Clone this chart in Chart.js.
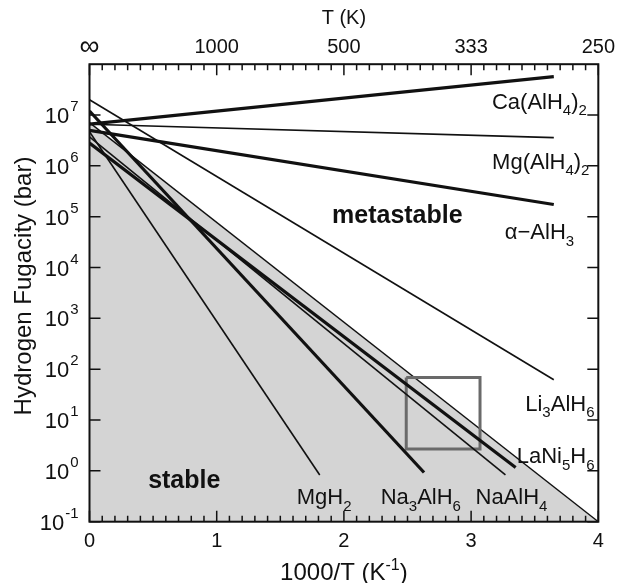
<!DOCTYPE html>
<html>
<head>
<meta charset="utf-8">
<script src="https://cdn.jsdelivr.net/npm/chart.js@4.4.0/dist/chart.umd.min.js"></script>
<style>
  body { margin: 0; background: #fff; }
  canvas { display: block; }
</style>
</head>
<body>
<canvas id="chart" width="620" height="583"></canvas>
<script>
// axis ticks: bottom is 1000/T, top shows the matching temperature
const xTickValues = [0, 1, 2, 3, 4];
const tempLabels = ["\u221e", "1000", "500", "333", "250"];
const yExponents = [-1, 0, 1, 2, 3, 4, 5, 6, 7];

// each line: [1000/T, fugacity in bar] at its two ends
const caAlH4 = [[0, 6.6e6], [3.65, 5.7e7]];
const mgAlH4 = [[0, 6.6e6], [3.65, 3.6e6]];
const alphaAlH3 = [[0, 5.0e6], [3.65, 1.74e5]];
const li3AlH6 = [[0, 2.0e7], [3.65, 62]];
const stableEdge = [[0, 7.1e6], [4, 0.1]];
const mgH2 = [[0, 4.7e6], [1.81, 0.83]];
const na3AlH6 = [[0, 1.2e7], [2.63, 0.93]];
const naAlH4 = [[0, 3.7e6], [3.27, 0.83]];
const laNi5H6 = [[0, 2.8e6], [3.35, 1.17]];
const zoomBox = [[2.49, 69], [3.07, 69], [3.07, 2.7], [2.49, 2.7], [2.49, 69]];

const ink = "#111";
const font = "'Liberation Sans', Arial, sans-serif";
Chart.defaults.font.family = font;

const pts = (arr) => arr.map(([x, y]) => ({ x, y }));

function line(data, width, extra) {
  return Object.assign({
    data: pts(data),
    showLine: true,
    borderColor: ink,
    borderWidth: width,
    pointRadius: 0,
    fill: false,
  }, extra || {});
}

// text pieces: [text] or [text, "sub"|"sup"]
const labels = [
  { parts: [["Ca(AlH"], ["4", "sub"], [")"], ["2", "sub"]], at: [3.91, 1.9e7], align: "right" },
  { parts: [["Mg(AlH"], ["4", "sub"], [")"], ["2", "sub"]], at: [3.93, 1.26e6], align: "right" },
  { parts: [["\u03b1\u2212AlH"], ["3", "sub"]], at: [3.81, 5.2e4], align: "right" },
  { parts: [["Li"], ["3", "sub"], ["AlH"], ["6", "sub"]], at: [3.97, 22], align: "right" },
  { parts: [["LaNi"], ["5", "sub"], ["H"], ["6", "sub"]], at: [3.97, 2.0], align: "right" },
  { parts: [["NaAlH"], ["4", "sub"]], at: [3.6, 0.32], align: "right" },
  { parts: [["Na"], ["3", "sub"], ["AlH"], ["6", "sub"]], at: [2.92, 0.32], align: "right" },
  { parts: [["MgH"], ["2", "sub"]], at: [2.06, 0.32], align: "right" },
  { parts: [["metastable"]], at: [2.42, 1.15e5], align: "center", bold: true, size: 25 },
  { parts: [["stable"]], at: [0.745, 0.69], align: "center", bold: true, size: 25 },
];

function drawRich(ctx, parts, x, y, size, align, bold) {
  const small = Math.round(size * 0.68);
  const w = bold ? "bold " : "";
  let total = 0;
  parts.forEach((p) => {
    ctx.font = w + (p[1] ? small : size) + "px " + font;
    total += ctx.measureText(p[0]).width;
  });
  let cx = align === "right" ? x - total : align === "center" ? x - total / 2 : x;
  const base = y + size * 0.36;
  ctx.textAlign = "left";
  ctx.textBaseline = "alphabetic";
  parts.forEach((p) => {
    ctx.font = w + (p[1] ? small : size) + "px " + font;
    const dy = p[1] === "sub" ? size * 0.3 : p[1] === "sup" ? -size * 0.42 : 0;
    ctx.fillText(p[0], cx, base + dy);
    cx += ctx.measureText(p[0]).width;
  });
}

const decor = {
  id: "decor",
  afterDraw(chart) {
    const { ctx, chartArea: a } = chart;
    const x = chart.scales.x;
    const y = chart.scales.y;
    ctx.save();
    ctx.strokeStyle = ink;
    ctx.lineWidth = 2;
    ctx.strokeRect(a.left, a.top, a.right - a.left, a.bottom - a.top);

    // inward ticks on all four sides
    ctx.lineWidth = 1.5;
    ctx.beginPath();
    for (let i = 0; i <= 40; i++) {
      const px = x.getPixelForValue(i / 10);
      const len = i % 10 === 0 ? 11 : 6;
      ctx.moveTo(px, a.bottom); ctx.lineTo(px, a.bottom - len);
      ctx.moveTo(px, a.top); ctx.lineTo(px, a.top + len);
    }
    yExponents.forEach((e) => {
      const py = y.getPixelForValue(Math.pow(10, e));
      ctx.moveTo(a.left, py); ctx.lineTo(a.left + 11, py);
      ctx.moveTo(a.right, py); ctx.lineTo(a.right - 11, py);
    });
    ctx.stroke();

    // y tick labels 10^n
    ctx.fillStyle = ink;
    yExponents.forEach((e) => {
      const py = y.getPixelForValue(Math.pow(10, e));
      const exp = String(e);
      ctx.font = "15px " + font;
      const ew = ctx.measureText(exp).width;
      ctx.textBaseline = "alphabetic";
      ctx.textAlign = "left";
      ctx.fillText(exp, a.left - 11 - ew, py - 4);
      ctx.font = "22px " + font;
      ctx.textAlign = "right";
      ctx.fillText("10", a.left - 12 - ew, py + 8);
    });

    // axis titles
    ctx.save();
    ctx.translate(24, 286);
    ctx.rotate(-Math.PI / 2);
    ctx.font = "24px " + font;
    ctx.textAlign = "center";
    ctx.textBaseline = "middle";
    ctx.fillText("Hydrogen Fugacity (bar)", 0, 0);
    ctx.restore();
    drawRich(ctx, [["1000/T (K"], ["-1", "sup"], [")"]], (a.left + a.right) / 2, 571, 24, "center");

    labels.forEach((l) => {
      drawRich(ctx, l.parts, x.getPixelForValue(l.at[0]), y.getPixelForValue(l.at[1]),
        l.size || 22, l.align, l.bold);
    });
    ctx.restore();
  },
};

new Chart(document.getElementById("chart"), {
  type: "scatter",
  data: {
    datasets: [
      line(caAlH4, 3.2),
      line(mgAlH4, 1.6),
      line(alphaAlH3, 3.2),
      line(li3AlH6, 1.6),
      line(na3AlH6, 3.2),
      line(laNi5H6, 3.2),
      line(naAlH4, 1.6),
      line(mgH2, 1.6),
      line(zoomBox, 3, { borderColor: "#6a6a6a" }),
      line(stableEdge, 1.4, { fill: "start", backgroundColor: "#d4d4d4" }),
    ],
  },
  options: {
    responsive: false,
    animation: false,
    layout: { padding: { left: 0, right: 18, top: 0, bottom: 0 } },
    plugins: { legend: { display: false }, tooltip: { enabled: false } },
    scales: {
      x: {
        type: "linear",
        position: "bottom",
        min: 0,
        max: 4,
        afterFit: (s) => { s.height = 61.3; },
        afterBuildTicks: (s) => { s.ticks = xTickValues.map((v) => ({ value: v })); },
        grid: { display: false, drawTicks: false },
        border: { display: false },
        ticks: { font: { size: 20 }, color: ink, padding: 8, maxRotation: 0, autoSkip: false },
      },
      x2: {
        type: "linear",
        position: "top",
        min: 0,
        max: 4,
        afterFit: (s) => { s.height = 64.2; },
        afterBuildTicks: (s) => { s.ticks = xTickValues.map((v) => ({ value: v })); },
        grid: { display: false, drawTicks: false },
        border: { display: false },
        ticks: {
          font: (c) => (c.tick && c.tick.value === 0
            ? { size: 28, lineHeight: 24 / 28 }
            : { size: 20, lineHeight: 1.2 }),
          color: ink,
          padding: 5,
          maxRotation: 0,
          autoSkip: false,
          callback: (v) => tempLabels[xTickValues.indexOf(v)],
        },
        title: { display: true, text: "T (K)", font: { size: 20 }, color: ink, padding: { top: 6, bottom: 0 } },
      },
      y: {
        type: "logarithmic",
        min: 0.1,
        max: 1e8,
        afterFit: (s) => { s.width = 89.5; },
        grid: { display: false },
        border: { display: false },
        ticks: { display: false },
        title: { display: false },
      },
    },
  },
  plugins: [decor],
});
</script>
</body>
</html>
